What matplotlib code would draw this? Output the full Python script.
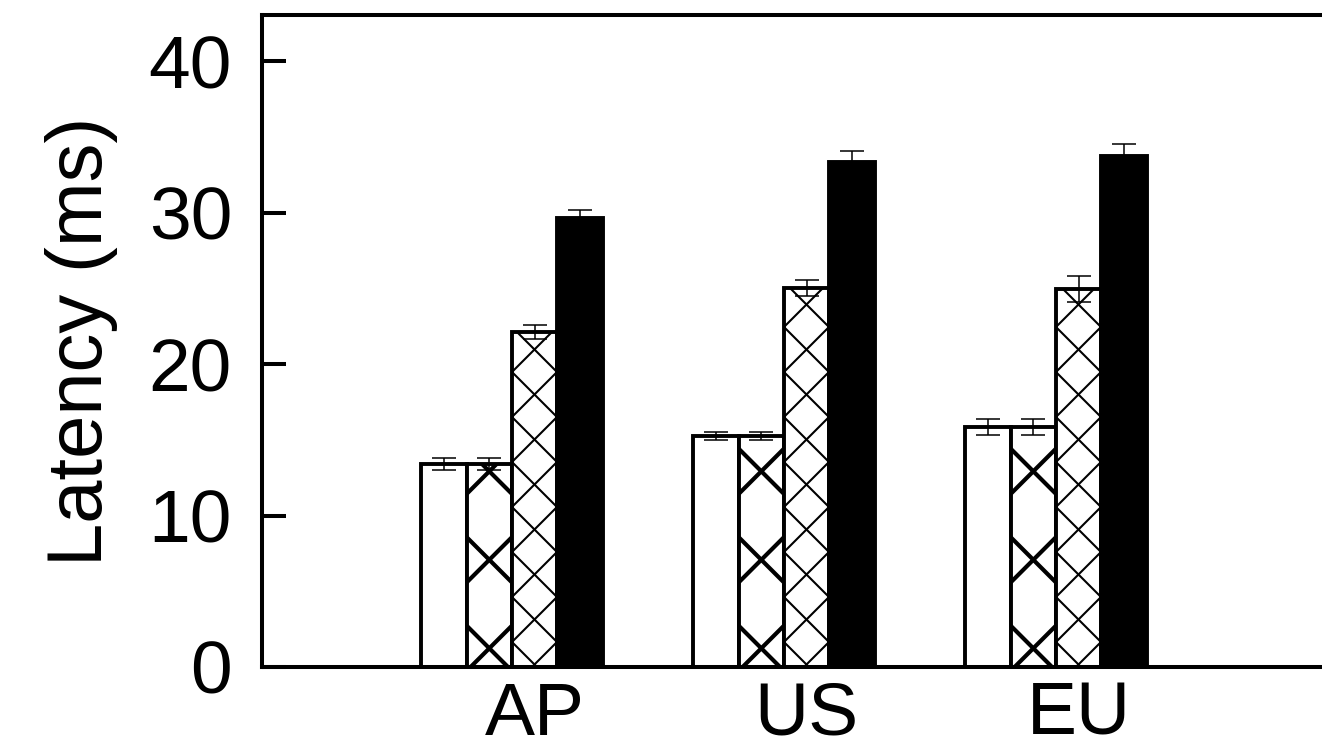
import matplotlib
matplotlib.use('Agg')
import matplotlib.pyplot as plt
import numpy as np
from matplotlib.collections import LineCollection
from matplotlib.transforms import IdentityTransform

plt.rcParams['font.family'] = ['Liberation Sans', 'DejaVu Sans']

# ---- data ----
regions = ['AP', 'US', 'EU']
plain_vals = [13.4, 15.25, 15.85]
plain_err = [0.37, 0.25, 0.54]
cross_vals = [13.4, 15.25, 15.85]
cross_err = [0.37, 0.25, 0.54]
fine_vals = [22.1, 25.0, 24.95]
fine_err = [0.46, 0.53, 0.87]
solid_vals = [29.65, 33.35, 33.75]
solid_err = [0.53, 0.73, 0.76]
yticks = [0, 10, 20, 30, 40]

fig = plt.figure(figsize=(13.22, 7.38), dpi=100)
ax = fig.add_axes([262 / 1322, 71 / 738, 1060 / 1322, 652 / 738])
ax.set_xlim(-0.919, 2.978)
ax.set_ylim(0, 43.04)

x = np.arange(len(regions))
w = 1 / 6
edge_lw = 2.8

b1 = ax.bar(x - 1.5 * w, plain_vals, w, color='white', edgecolor='black', lw=edge_lw, zorder=2)
b2 = ax.bar(x - 0.5 * w, cross_vals, w, color='white', edgecolor='black', lw=edge_lw, zorder=2)
b3 = ax.bar(x + 0.5 * w, fine_vals, w, color='white', edgecolor='black', lw=edge_lw, zorder=2)
b4 = ax.bar(x + 1.5 * w, solid_vals, w, color='black', edgecolor='black', lw=edge_lw, zorder=2)

for off, vals, errs in [(-1.5, plain_vals, plain_err), (-0.5, cross_vals, cross_err),
                        (0.5, fine_vals, fine_err), (1.5, solid_vals, solid_err)]:
    ax.errorbar(x + off * w, vals, yerr=errs, fmt='none', ecolor='black',
                elinewidth=1.1, capsize=8.3, capthick=1.1, zorder=4)


def add_hatch(bars, period, phase, anchor, lw):
    for b in bars:
        (x0, y0), (x1, y1) = ax.transData.transform(
            [(b.get_x(), 0), (b.get_x() + b.get_width(), b.get_height())])
        xa = x0 if anchor == 'left' else (x0 + x1) / 2
        segs = []
        xl, xr = x0 - 80, x1 + 80
        for k in range(-3, int((y1 - y0) / period) + 4):
            yc = y0 + phase + k * period
            segs.append([(xl, yc + (xl - xa)), (xr, yc + (xr - xa))])
            segs.append([(xl, yc - (xl - xa)), (xr, yc - (xr - xa))])
        lc = LineCollection(segs, colors='black', linewidths=lw,
                            transform=IdentityTransform(), zorder=2.5)
        ax.add_collection(lc, autolim=False)
        lc.set_clip_path(b)


add_hatch(b2, 88.5, 18.7, 'center', 3.0)
add_hatch(b3, 45.0, 25.0, 'left', 1.5)

ax.set_xlim(-0.919, 2.978)
ax.set_ylim(0, 43.04)

ax.set_yticks(yticks)
ax.set_yticklabels([str(t) for t in yticks])
ax.set_xticks(x + 0.5 * w)
ax.set_xticklabels(regions)

ax.tick_params(axis='y', direction='in', length=17, width=2.9, labelsize=54,
               pad=21.6, right=False, colors='black')
ax.tick_params(axis='x', length=0, labelsize=54, pad=10, top=False)

for side in ['left', 'top', 'bottom']:
    ax.spines[side].set_linewidth(2.9)
    ax.spines[side].set_zorder(5)
ax.spines['right'].set_visible(False)

ax.set_ylabel('Latency (ms)', fontsize=56)
ax.yaxis.set_label_coords(-0.136, 0.5)

fig.savefig('out.png', dpi=100)
